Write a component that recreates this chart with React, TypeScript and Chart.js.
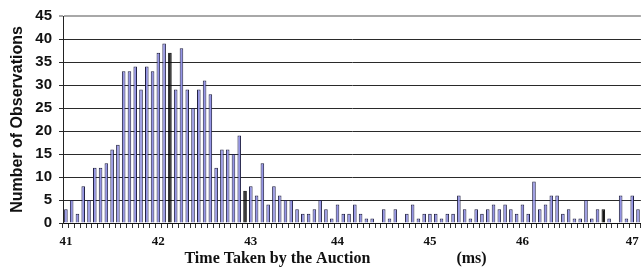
import React, { useEffect, useRef } from "react";
import { Chart, registerables } from "chart.js";

Chart.register(...registerables);

const counts: number[] = [
  3, 5, 2, 8, 5, 12, 12, 13, 16, 17,
  33, 33, 34, 29, 34, 33, 37, 39, 37, 29,
  38, 29, 25, 29, 31, 28, 12, 16, 16, 15,
  19, 7, 8, 6, 13, 4, 8, 6, 5, 5,
  3, 2, 2, 3, 5, 3, 1, 4, 2, 2,
  4, 2, 1, 1, 0, 3, 1, 3, 0, 2,
  4, 1, 2, 2, 2, 1, 2, 2, 6, 3,
  1, 3, 2, 3, 4, 3, 4, 3, 2, 4,
  2, 9, 3, 4, 6, 6, 2, 3, 1, 1,
  5, 1, 3, 3, 1, 0, 6, 1, 6, 3,
];

// Bins that appear drawn in black in the original
const darkBins: number[] = [18, 31, 93];

// Tick labels (ms) and the bin they sit under
const tickLabels: string[] = ["41", "42", "43", "44", "45", "46", "47"];
const tickBins: number[] = [0, 16, 32, 47, 63, 79, 98];

const yTicks: number[] = [0, 5, 10, 15, 20, 25, 30, 35, 40, 45];

const X_TITLE = "Time Taken by the Auction";
const X_UNIT = "(ms)";
const Y_TITLE = "Number of Observations";

const categories: string[] = counts.map((_, i) => {
  const k = tickBins.indexOf(i);
  return k >= 0 ? tickLabels[k] : "";
});

const xTitlePlugin = {
  id: "xTitlePlugin",
  afterDraw(chart: any) {
    const { ctx, chartArea } = chart;
    const w = chartArea.right - chartArea.left;
    ctx.save();
    ctx.font = 'bold 16px "Liberation Serif", "Times New Roman", serif';
    ctx.fillStyle = "#111";
    ctx.textAlign = "center";
    ctx.textBaseline = "middle";
    ctx.fillText(X_TITLE, chartArea.left + w * 0.371, 259);
    ctx.fillText(X_UNIT, chartArea.left + w * 0.707, 259);
    ctx.restore();
  },
};

export default function App() {
  const ref = useRef<HTMLCanvasElement | null>(null);

  useEffect(() => {
    if (!ref.current) return;
    const chart = new Chart(ref.current, {
      type: "bar",
      data: {
        labels: categories,
        datasets: [
          {
            data: counts,
            backgroundColor: counts.map((_, i) =>
              darkBins.includes(i) ? "#151515" : "#9494e6"
            ),
            borderColor: counts.map((_, i) =>
              darkBins.includes(i) ? "#000000" : "#222244"
            ),
            borderWidth: 1,
            barPercentage: 0.62,
            categoryPercentage: 1,
          },
        ],
      },
      options: {
        responsive: false,
        animation: false,
        layout: { padding: { top: 15, right: 1, left: 0, bottom: 0 } },
        plugins: {
          legend: { display: false },
          tooltip: { enabled: false },
          title: { display: false },
        },
        scales: {
          x: {
            type: "category",
            offset: true,
            grid: {
              display: true,
              drawOnChartArea: false,
              drawTicks: true,
              tickLength: 5,
              color: "#333",
              offset: true,
            },
            border: { display: true, color: "#111", width: 1 },
            ticks: {
              autoSkip: false,
              maxRotation: 0,
              minRotation: 0,
              padding: 6,
              color: "#111",
              font: { family: '"Liberation Serif", "Times New Roman", serif', size: 13, weight: "bold" },
              callback: (_v: any, i: number) => categories[i],
            },
            afterFit: (scale: any) => {
              scale.height = 46;
            },
          },
          y: {
            min: 0,
            max: 45,
            afterBuildTicks: (scale: any) => {
              scale.ticks = yTicks.map((v) => ({ value: v }));
            },
            grid: {
              color: (ctx: any) => (ctx.tick && ctx.tick.value === 45 ? "#a8a8a8" : "#2a2a2a"),
              lineWidth: (ctx: any) => (ctx.tick && ctx.tick.value === 45 ? 2 : 1),
              tickLength: 4,
              drawTicks: true,
            },
            border: { display: true, color: "#222", width: 1 },
            ticks: {
              padding: 7,
              color: "#111",
              font: { family: '"Liberation Sans", Arial, sans-serif', size: 15, weight: "bold" },
            },
            title: {
              display: true,
              text: Y_TITLE,
              color: "#111",
              font: { family: '"Liberation Sans", Arial, sans-serif', size: 16, weight: "bold" },
              padding: { top: 8, bottom: 0 },
            },
            afterFit: (scale: any) => {
              scale.width = 63;
            },
          },
        },
      },
      plugins: [xTitlePlugin],
    });
    return () => chart.destroy();
  }, []);

  return (
    <div style={{ position: "absolute", left: 0, top: 0, width: 644, height: 269, background: "#fff" }}>
      <canvas ref={ref} width={644} height={269} style={{ display: "block" }} />
    </div>
  );
}
